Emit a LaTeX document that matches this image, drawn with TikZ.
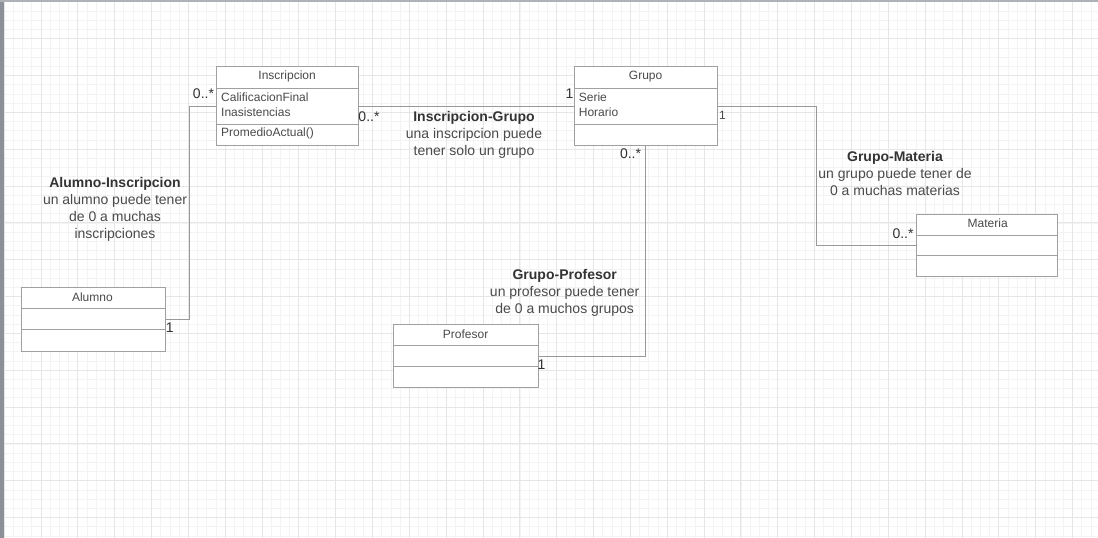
\documentclass[tikz,border=0pt]{standalone}
\usepackage{fontspec}
\setmainfont{Liberation Sans}
\usetikzlibrary{calc}
\definecolor{gridmajor}{HTML}{E6E6E6}
\definecolor{gridminor}{HTML}{F3F3F3}
\definecolor{boxline}{HTML}{A0A0A0}
\definecolor{connline}{HTML}{999999}
\definecolor{txt}{HTML}{4A4A4A}
\definecolor{txtdark}{HTML}{333333}
\definecolor{frame}{HTML}{8C9098}
\begin{document}
\begin{tikzpicture}[x=1pt,y=-1pt,
  minorgrid/.style={draw=gridminor,line width=0.8pt},
  majorgrid/.style={draw=gridmajor,line width=1pt},
  classbox/.style={draw=boxline,line width=1pt,fill=white,inner sep=0pt,rectangle},
  divider/.style={draw=boxline,line width=1pt},
  conn/.style={draw=connline,line width=1pt},
  cname/.style={font=\fontsize{12}{14}\selectfont,text=txt,inner sep=0pt},
  cattr/.style={font=\fontsize{12}{14}\selectfont,text=txt,inner sep=0pt,anchor=west},
  mult/.style={font=\fontsize{14}{16}\selectfont,text=txtdark,inner sep=0pt},
  multsmall/.style={font=\fontsize{12}{14}\selectfont,text=txt,inner sep=0pt},
  assoc/.style={font=\fontsize{14}{16.8}\selectfont,text=txt,align=center,inner sep=0pt}]
\useasboundingbox (0,0) rectangle (1098,538);
\fill[white] (0,0) rectangle (1098,538);
% grid
\foreach \k in {0,...,119} {\draw[minorgrid] ({4.16+9.21*\k},0) -- ++(0,538);}
\foreach \k in {0,...,58} {\draw[minorgrid] (0,{1.86+9.21*\k}) -- ++(1098,0);}
\foreach \k in {0,...,29} {\draw[majorgrid] ({4.16+36.84*\k},0) -- ++(0,538);}
\foreach \k in {0,...,14} {\draw[majorgrid] (0,{1.86+36.84*\k}) -- ++(1098,0);}
\fill[frame] (0,0) rectangle (3.5,538);
\fill[frame!70] (0,0) rectangle (1098,1.5);

% classes
\node[classbox,minimum width=142.3pt,minimum height=78.3pt] (insc) at (287.15,105.85) {};
\draw[divider] (216,88.3) -- (358.3,88.3);
\draw[divider] (216,124.7) -- (358.3,124.7);
\node[cname] (inscT) at (287.15,76.5) {Inscripcion};
\node[cattr] (inscA1) at (221,97.7) {CalificacionFinal};
\node[cattr] (inscA2) at (221,112.3) {Inasistencias};
\node[cattr] (inscM1) at (221,133.8) {PromedioActual()};

\node[classbox,minimum width=143.3pt,minimum height=78.3pt] (grupo) at (645.65,105.85) {};
\draw[divider] (574,88.3) -- (717.3,88.3);
\draw[divider] (574,124) -- (717.3,124);
\node[cname] (grupoT) at (645.65,76.5) {Grupo};
\node[cattr] (grupoA1) at (578.7,97.5) {Serie};
\node[cattr] (grupoA2) at (578.7,112) {Horario};

\node[classbox,minimum width=141.7pt,minimum height=62pt] (materia) at (986.85,245) {};
\draw[divider] (916,235) -- (1057.7,235);
\draw[divider] (916,255.7) -- (1057.7,255.7);
\node[cname] (materiaT) at (987.7,223.5) {Materia};

\node[classbox,minimum width=143.8pt,minimum height=63.7pt] (alumno) at (93.3,319.15) {};
\draw[divider] (21.4,308.7) -- (165.2,308.7);
\draw[divider] (21.4,329.7) -- (165.2,329.7);
\node[cname] (alumnoT) at (92.4,297) {Alumno};

\node[classbox,minimum width=144.7pt,minimum height=63.4pt] (profesor) at (465.65,356) {};
\draw[divider] (393.3,345.7) -- (538,345.7);
\draw[divider] (393.3,366.7) -- (538,366.7);
\node[cname] (profesorT) at (465.6,333.8) {Profesor};

% connectors
\coordinate (ai1) at (189.7,319.3);
\coordinate (ai2) at (189.7,106.7);
\draw[conn] (alumno.east |- ai1) -- (ai1) -- (ai2) -- (insc.west |- ai2);
\coordinate (ig) at (358.3,106);
\draw[conn] (insc.east |- ig) -- (grupo.west |- ig);
\coordinate (gm1) at (816,106);
\coordinate (gm2) at (816,245);
\draw[conn] (grupo.east |- gm1) -- (gm1) -- (gm2) -- (materia.west |- gm2);
\coordinate (gp1) at (645.3,356.7);
\draw[conn] (grupo.south -| gp1) -- (gp1) -- (profesor.east |- gp1);

% multiplicities
\node[mult] (m1) at (203.5,93.3) {0..*};
\node[mult] (m2) at (169.8,327.7) {1};
\node[mult] (m3) at (369,116.7) {0..*};
\node[mult] (m4) at (569.5,94) {1};
\node[multsmall] (m5) at (722.5,115.5) {1};
\node[mult] (m6) at (630.5,153.3) {0..*};
\node[mult] (m7) at (903,234) {0..*};
\node[mult] (m8) at (541.5,365) {1};

% association labels
\node[assoc] (lab1) at (115,209.5) {\textcolor{txtdark}{\textbf{Alumno-Inscripcion}}\\un alumno puede tener\\de 0 a muchas\\inscripciones};
\node[assoc] (lab2) at (474,134.8) {\textcolor{txtdark}{\textbf{Inscripcion-Grupo}}\\una inscripcion puede\\tener solo un grupo};
\node[assoc] (lab3) at (895,173.3) {\textcolor{txtdark}{\textbf{Grupo-Materia}}\\un grupo puede tener de\\0 a muchas materias};
\node[assoc] (lab4) at (564.7,292.8) {\textcolor{txtdark}{\textbf{Grupo-Profesor}}\\un profesor puede tener\\de 0 a muchos grupos};
\end{tikzpicture}
\end{document}
